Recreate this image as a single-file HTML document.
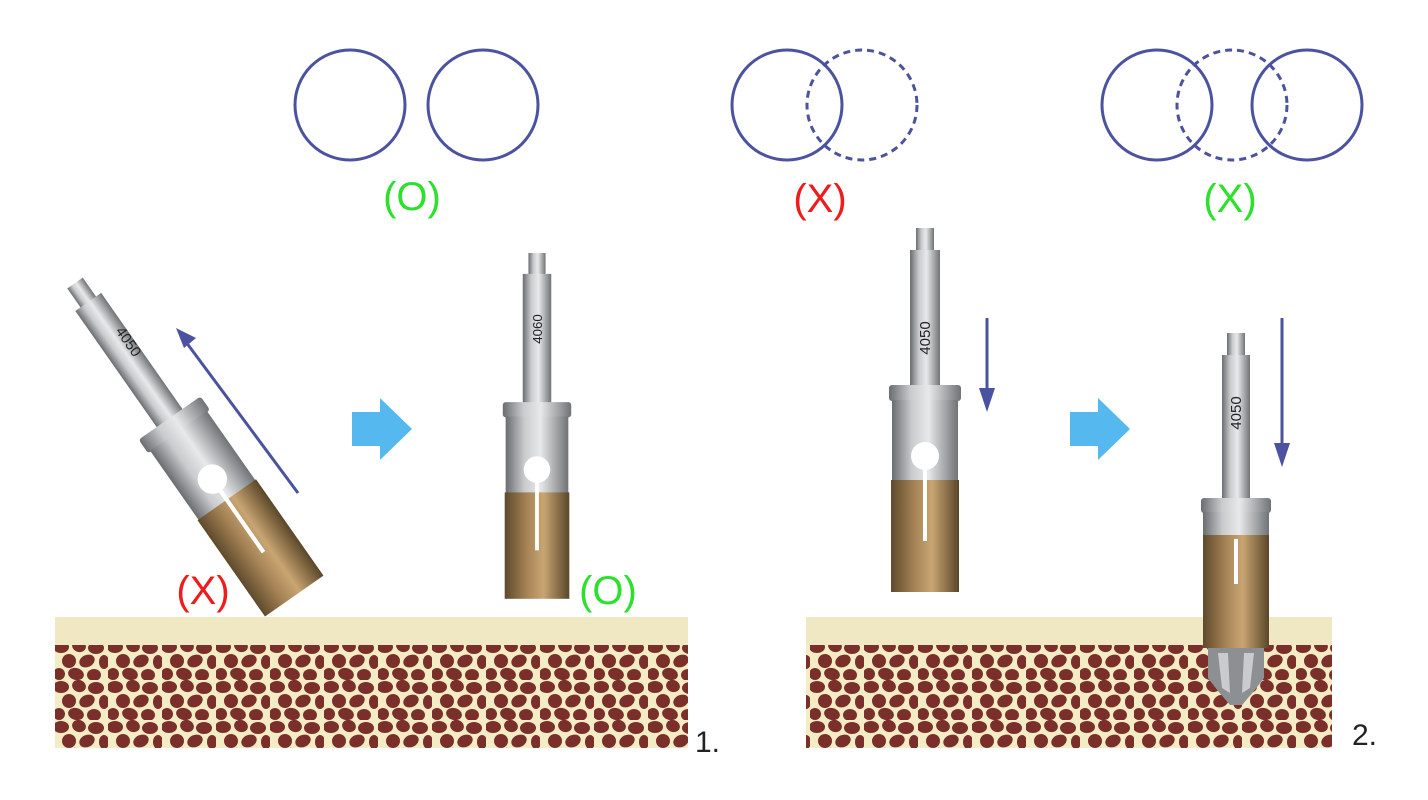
<!DOCTYPE html>
<html><head><meta charset="utf-8"><style>html,body{margin:0;padding:0;background:#fff}svg{display:block}</style></head><body>
<svg width="1428" height="800" viewBox="0 0 1428 800" xmlns="http://www.w3.org/2000/svg" font-family="Liberation Sans, sans-serif">
<defs>
<linearGradient id="sil" x1="0" x2="1" y1="0" y2="0">
<stop offset="0" stop-color="#6a6d70"/><stop offset="0.3" stop-color="#c9cbcd"/><stop offset="0.55" stop-color="#e8e9ea"/><stop offset="1" stop-color="#707376"/></linearGradient>
<linearGradient id="gold" x1="0" x2="1" y1="0" y2="0">
<stop offset="0" stop-color="#5e4a2c"/><stop offset="0.35" stop-color="#a78457"/><stop offset="0.6" stop-color="#c9a572"/><stop offset="1" stop-color="#5a4629"/></linearGradient>
<pattern id="bone" width="54" height="40" patternUnits="userSpaceOnUse">
<rect width="54" height="40" fill="#f3ecc4"/>
<g fill="#7b2f2b">
<ellipse cx="7" cy="7" rx="8" ry="6"/><ellipse cx="25" cy="6" rx="7" ry="6" transform="rotate(20 25 6)"/><ellipse cx="42" cy="8" rx="8" ry="6"/>
<ellipse cx="15" cy="21" rx="7" ry="7"/><ellipse cx="33" cy="21" rx="8" ry="6" transform="rotate(-25 33 21)"/><ellipse cx="50" cy="22" rx="5" ry="7"/>
<ellipse cx="5" cy="34" rx="6" ry="6"/><ellipse cx="22" cy="34" rx="8" ry="6" transform="rotate(15 22 34)"/><ellipse cx="40" cy="35" rx="7" ry="6"/>
</g></pattern>
<g id="drill">
<rect x="-9" y="0" width="18" height="24" fill="url(#sil)"/>
<rect x="-15" y="22" width="30" height="136" fill="url(#sil)"/>
<rect x="-36" y="157" width="72" height="16" rx="3" fill="url(#sil)"/>
<rect x="-33" y="172" width="66" height="81" fill="url(#sil)"/>
<circle cx="0" cy="228" r="14" fill="#fff"/>
<rect x="-34" y="252" width="68" height="112" fill="url(#gold)"/>
<rect x="-2" y="236" width="4" height="77" fill="#fff"/>
</g>
</defs>

<g fill="none" stroke="#4b52a0" stroke-width="3">
<circle cx="350" cy="105" r="55"/><circle cx="483" cy="105" r="55"/>
<circle cx="787" cy="105" r="55"/><circle cx="862" cy="105" r="55" stroke-dasharray="7 5"/>
<circle cx="1157" cy="105" r="55"/><circle cx="1232" cy="105" r="55" stroke-dasharray="7 5"/><circle cx="1307" cy="105" r="55"/>
</g>
<g font-size="40" text-anchor="middle">
<text x="412" y="210" fill="#2ee02e">(O)</text>
<text x="820" y="212" fill="#ee1c1c">(X)</text>
<text x="1230" y="212" fill="#2ee02e">(X)</text>
<text x="203" y="604" fill="#ee1c1c">(X)</text>
<text x="608" y="604" fill="#2ee02e">(O)</text>
</g>
<text x="695" y="752" font-size="30" fill="#222">1.</text>
<text x="1352" y="745" font-size="30" fill="#222">2.</text>

<rect x="55" y="617" width="633" height="131" fill="url(#bone)"/>
<rect x="55" y="617" width="633" height="28" fill="#f0e8c2"/>
<rect x="806" y="617" width="526" height="131" fill="url(#bone)"/>
<rect x="806" y="617" width="526" height="28" fill="#f0e8c2"/>

<g transform="translate(75,283) rotate(-35) scale(1.05)"><use href="#drill"/><text transform="translate(5,75) rotate(90)" font-size="14" fill="#222" text-anchor="middle">4050</text></g>
<g transform="translate(537,253) scale(0.95)"><use href="#drill"/><text transform="translate(5,80) rotate(-90)" font-size="14" fill="#222" text-anchor="middle">4060</text></g>
<g transform="translate(925,228)"><use href="#drill"/><text transform="translate(5,110) rotate(-90)" font-size="15" fill="#222" text-anchor="middle">4050</text></g>
<g transform="translate(1236,333)">
<rect x="-9" y="0" width="18" height="24" fill="url(#sil)"/>
<rect x="-14" y="22" width="28" height="145" fill="url(#sil)"/>
<rect x="-35" y="165" width="70" height="15" rx="3" fill="url(#sil)"/>
<rect x="-33" y="179" width="66" height="24" fill="url(#sil)"/>
<rect x="-33" y="202" width="66" height="113" fill="url(#gold)"/>
<rect x="-2" y="206" width="4" height="45" fill="#fff"/>
<path d="M-28 315 L28 315 L28 345 L18 358 L6 372 L-6 372 L-18 358 L-28 345Z" fill="#8d9093"/>
<path d="M-18 320 L-8 320 L-6 360 L-14 355Z M8 320 L18 320 L14 355 L6 360Z" fill="#c9cbcd"/>
<text transform="translate(5,80) rotate(-90)" font-size="15" fill="#222" text-anchor="middle">4050</text>
</g>

<g stroke="#4b52a0" stroke-width="3" fill="#4b52a0">
<line x1="298" y1="493" x2="186" y2="342"/>
<line x1="987" y1="318" x2="987" y2="390"/>
<line x1="1282" y1="318" x2="1282" y2="445"/>
</g>
<g fill="#4b52a0">
<polygon points="176,328 196,338 184,348"/>
<polygon points="979,388 995,388 987,412"/>
<polygon points="1274,443 1290,443 1282,467"/>
</g>
<g fill="#55b9ef">
<polygon points="352,412 380,412 380,398 412,429 380,460 380,446 352,446"/>
<polygon points="1070,412 1098,412 1098,398 1130,429 1098,460 1098,446 1070,446"/>
</g>
</svg>
</body></html>
